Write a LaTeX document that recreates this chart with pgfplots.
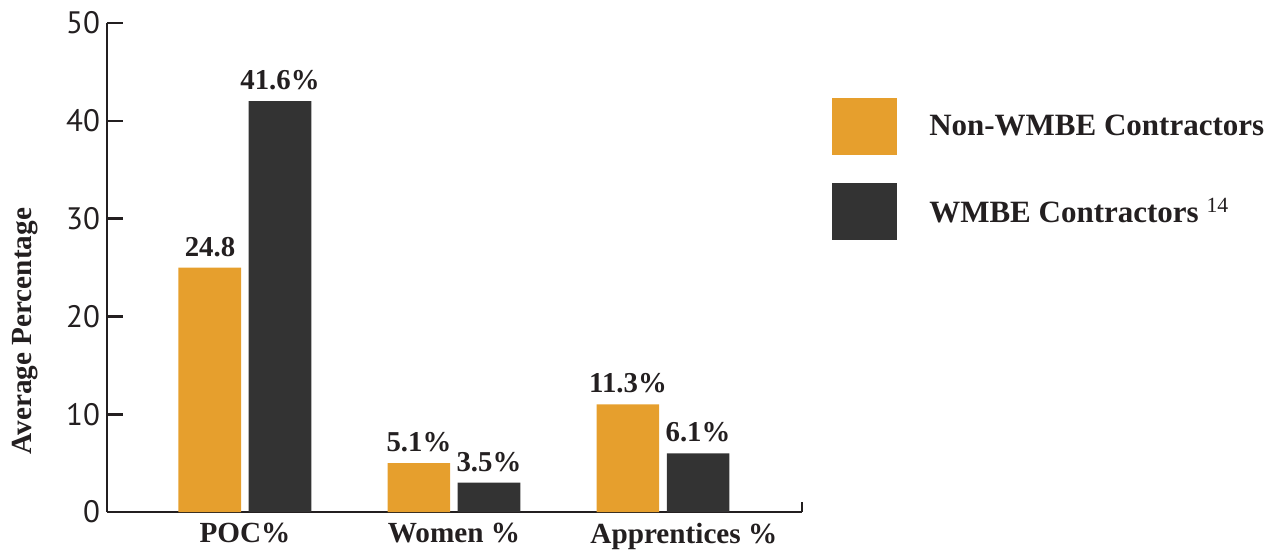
\documentclass[border=0pt]{standalone}
\usepackage{fontspec}
\setmainfont{Liberation Serif}
\newfontfamily\ticksans{PT Sans}
\usepackage{pgfplots}
\pgfplotsset{compat=1.18}
\definecolor{barorange}{RGB}{230,159,45}
\definecolor{bardark}{RGB}{51,51,51}
\definecolor{ink}{RGB}{35,31,32}

\begin{document}
\begin{tikzpicture}
\useasboundingbox (-53.5pt,-21pt) rectangle (581pt,256pt);
\begin{axis}[
  scale only axis,
  width=347.5pt, height=244.5pt,
  xmin=-0.66, xmax=2.665,
  ymin=0, ymax=50,
  axis x line=bottom, axis y line=left,
  axis line style={ink, line width=1.3pt, -},
  ytick={0,10,...,50},
  xtick={0,1,2.1},
  xticklabels={POC\%, Women \%, Apprentices \%},
  x tick style={draw=none},
  y tick style={ink, line width=1.3pt},
  tick align=inside,
  major tick length=8pt,
  /pgf/number format/assume math mode=true,
  yticklabel style={font=\ticksans\fontsize{15.5}{15}\selectfont, text=ink},
  xticklabel style={font=\bfseries\fontsize{14.6}{15}\selectfont, text=ink, yshift=-2pt},
  ylabel={Average Percentage},
  every axis y label/.style={at={(axis description cs:-0.118,0.37)}, rotate=90, anchor=center,
    font=\bfseries\fontsize{14.6}{15}\selectfont, text=ink},
  bar width=0.3,
  nodes near coords,
  point meta=explicit symbolic,
  nodes near coords style={font=\bfseries\fontsize{14.4}{15}\selectfont, text=ink, anchor=south, yshift=2pt},
  legend style={at={(1.043,0.8466)}, anchor=north west, draw=none, fill=none, inner sep=0pt,
    row sep=14pt, font=\bfseries\fontsize{15.5}{16}\selectfont, text=ink, cells={anchor=west},
    /tikz/every odd column/.append style={column sep=14pt}},
  legend image code/.code={\fill[#1] (0pt,-14.25pt) rectangle (32.5pt,14.25pt);},
  clip=false,
]
% bars drawn at the heights shown; labels as printed
\addplot[ybar, bar shift=-0.168, fill=barorange, draw=none,
  every node near coord/.append style={xshift=-17.5pt}]
  coordinates {(0,25)[24.8] (1,5)[5.1\%] (2,11)[11.3\%]};
\addplot[ybar, bar shift=0.168, fill=bardark, draw=none,
  every node near coord/.append style={xshift=17.5pt}]
  coordinates {(0,42)[41.6\%] (1,3)[3.5\%] (2,6)[6.1\%]};
\legend{Non-WMBE Contractors, WMBE Contractors {\mdseries\textsuperscript{14}}}
\draw[ink, line width=1.3pt] (axis cs:2.665,0) -- ++(0pt,5pt);
\end{axis}
\end{tikzpicture}
\end{document}
